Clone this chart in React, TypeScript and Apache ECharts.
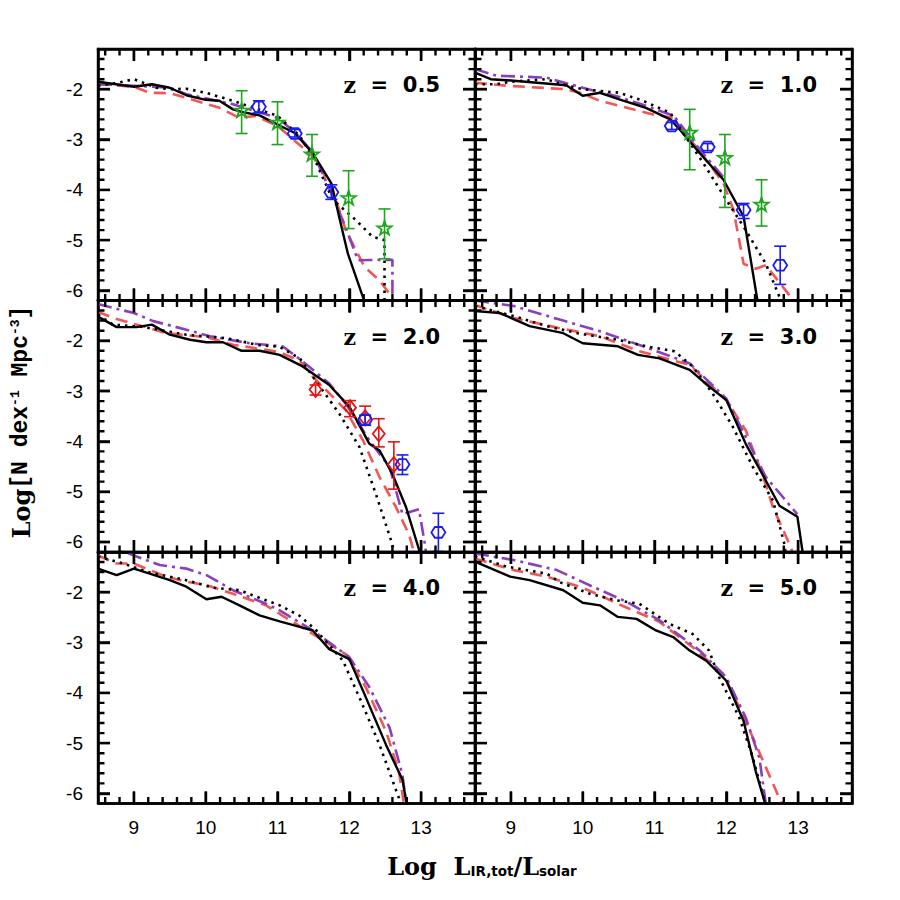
import React, { useEffect, useRef } from 'react';
import * as echarts from 'echarts';

// ---------- axes ----------
const X_MIN = 8.5, X_MAX = 13.75, Y_MIN = -6.2, Y_MAX = -1.2;
const xMajorTicks = [9, 10, 11, 12, 13];
const xMinorTicks = [8.6, 8.8, 9.2, 9.4, 9.6, 9.8, 10.2, 10.4, 10.6, 10.8, 11.2, 11.4, 11.6, 11.8, 12.2, 12.4, 12.6, 12.8, 13.2, 13.4, 13.6];
const yMajorTicks = [-2, -3, -4, -5, -6];
const yMinorTicks = [-1.4, -1.6, -1.8, -2.2, -2.4, -2.6, -2.8, -3.2, -3.4, -3.6, -3.8, -4.2, -4.4, -4.6, -4.8, -5.2, -5.4, -5.6, -5.8];

// ---------- panel labels ----------
const redshifts = ['0.5', '1.0', '2.0', '3.0', '4.0', '5.0'];

// ---------- model curves [logL, logPhi] ----------
const z05Solid = [[8.5,-1.85],[9.0,-1.95],[9.25,-1.9],[9.5,-1.97],[9.73,-2.12],[10.0,-2.21],[10.19,-2.23],[10.38,-2.4],[10.5,-2.45],[10.75,-2.52],[11.0,-2.7],[11.24,-2.87],[11.49,-3.27],[11.75,-3.87],[11.88,-4.67],[11.98,-5.27],[12.23,-6.3]];
const z05Dotted = [[8.5,-1.93],[8.75,-1.88],[9.0,-1.8],[9.31,-1.97],[9.5,-2.0],[9.73,-1.99],[10.0,-2.07],[10.38,-2.23],[11.0,-2.53],[11.31,-2.93],[11.54,-3.47],[11.77,-4.2],[12.09,-4.6],[12.32,-4.93],[12.49,-5.0],[12.49,-6.3]];
const z05Dashed = [[8.5,-1.9],[9.0,-1.95],[9.22,-2.07],[9.5,-2.08],[9.73,-2.17],[10.19,-2.37],[10.47,-2.57],[10.7,-2.53],[11.0,-2.73],[11.49,-3.33],[11.75,-3.93],[11.95,-4.8],[12.21,-5.53],[12.42,-5.8],[12.56,-6.07],[12.6,-6.3]];
const z05DashDot = [[8.5,-1.9],[9.0,-1.93],[9.5,-1.97],[9.73,-2.1],[10.0,-2.18],[10.38,-2.3],[11.0,-2.57],[11.24,-2.85],[11.49,-3.25],[11.77,-4.13],[11.95,-4.75],[12.12,-5.4],[12.6,-5.39],[12.6,-6.3]];

const z10Solid = [[8.5,-1.67],[8.72,-1.8],[9.04,-1.83],[9.77,-1.92],[10.0,-2.13],[10.24,-2.07],[10.51,-2.2],[10.88,-2.37],[11.22,-2.6],[11.35,-2.8],[11.63,-3.27],[11.96,-3.8],[12.24,-4.53],[12.43,-6.17],[12.44,-6.3]];
const z10Dotted = [[8.5,-1.9],[8.8,-1.9],[9.0,-1.85],[9.5,-1.8],[9.7,-1.9],[10.0,-2.0],[10.51,-2.07],[10.84,-2.23],[11.22,-2.47],[11.4,-2.87],[11.68,-3.47],[12.0,-4.2],[12.27,-4.8],[12.55,-5.47],[12.74,-6.13],[12.78,-6.3]];
const z10Dashed = [[8.5,-1.87],[8.94,-1.93],[9.77,-2.0],[9.96,-2.07],[10.24,-2.23],[10.98,-2.5],[11.26,-2.57],[11.68,-3.33],[11.96,-3.87],[12.1,-4.4],[12.24,-5.47],[12.41,-5.57],[12.55,-5.5],[12.92,-6.17],[12.94,-6.3]];
const z10DashDot = [[8.5,-1.6],[8.8,-1.73],[9.5,-1.77],[10.0,-1.97],[10.5,-2.15],[10.88,-2.33],[11.27,-2.53],[11.63,-3.2],[11.96,-3.75]];

const z20Solid = [[8.5,-1.52],[8.76,-1.73],[9.04,-1.73],[9.25,-1.68],[9.5,-1.88],[9.78,-1.98],[10.01,-2.03],[10.24,-2.03],[10.5,-2.2],[10.75,-2.2],[11.03,-2.28],[11.35,-2.51],[11.72,-2.88],[12.0,-3.31],[12.28,-4.05],[12.42,-4.18],[12.6,-4.65],[12.79,-5.31],[12.97,-6.15],[12.98,-6.3]];
const z20Dotted = [[8.5,-1.48],[8.71,-1.68],[9.1,-1.72],[9.73,-1.88],[10.29,-1.95],[10.75,-2.09],[11.03,-2.12],[11.31,-2.35],[11.49,-2.71],[11.86,-3.45],[12.14,-4.11],[12.37,-5.05],[12.6,-6.05],[12.63,-6.3]];
const z20Dashed = [[8.5,-1.43],[8.76,-1.57],[9.22,-1.75],[9.45,-1.85],[10.01,-1.93],[10.38,-2.08],[10.84,-2.18],[11.03,-2.23],[11.31,-2.4],[11.49,-2.71],[11.95,-3.38],[12.19,-3.98],[12.42,-4.71],[12.65,-5.31],[12.83,-5.85],[12.92,-6.3]];
const z20DashDot = [[8.5,-1.27],[9.0,-1.45],[9.27,-1.61],[9.73,-1.78],[10.06,-1.91],[10.61,-2.05],[11.07,-2.11],[11.35,-2.41],[11.72,-2.85],[11.95,-3.25],[12.28,-3.98],[12.56,-4.51],[12.74,-5.45],[12.97,-5.35],[13.06,-6.11],[13.07,-6.3]];

const z30Solid = [[8.5,-1.41],[8.85,-1.45],[9.26,-1.71],[9.73,-1.85],[10.0,-2.05],[10.49,-2.11],[10.77,-2.28],[11.07,-2.35],[11.49,-2.58],[11.76,-2.91],[12.0,-3.18],[12.27,-4.05],[12.5,-4.65],[12.74,-5.28],[12.99,-5.5],[13.06,-6.18],[13.07,-6.3]];
const z30Dotted = [[8.5,-1.31],[9.04,-1.51],[9.5,-1.71],[9.96,-1.86],[10.49,-1.98],[10.88,-2.11],[11.28,-2.21],[11.53,-2.51],[11.81,-3.05],[12.09,-3.71],[12.37,-4.51],[12.65,-5.18],[12.81,-6.05],[12.83,-6.3]];
const z30Dashed = [[8.5,-1.29],[9.04,-1.55],[9.68,-1.75],[10.24,-1.91],[10.79,-2.21],[11.49,-2.48],[12.0,-3.18],[12.27,-3.78],[12.5,-4.65],[12.65,-5.31],[12.88,-6.05],[12.95,-6.3]];
const z30DashDot = [[8.5,-1.2],[9.04,-1.31],[9.68,-1.58],[10.24,-1.81],[10.84,-2.11],[11.49,-2.45],[12.0,-3.15],[12.27,-3.91],[12.55,-4.71],[12.99,-5.45]];

const z40Solid = [[8.5,-1.53],[8.76,-1.66],[9.0,-1.53],[9.22,-1.63],[9.5,-1.76],[9.73,-1.89],[10.01,-2.14],[10.22,-2.09],[10.47,-2.26],[10.75,-2.46],[11.03,-2.58],[11.31,-2.69],[11.49,-2.76],[11.72,-3.13],[12.0,-3.33],[12.23,-4.09],[12.51,-5.03],[12.74,-5.73],[12.81,-6.3]];
const z40Dotted = [[8.5,-1.29],[8.85,-1.43],[9.2,-1.6],[9.73,-1.76],[10.1,-1.91],[10.47,-1.96],[10.84,-2.16],[11.03,-2.26],[11.31,-2.47],[11.54,-2.76],[11.91,-3.36],[12.14,-4.09],[12.42,-5.03],[12.69,-6.09],[12.72,-6.3]];
const z40Dashed = [[8.5,-1.27],[8.76,-1.43],[9.0,-1.43],[9.45,-1.69],[9.73,-1.79],[10.01,-1.86],[10.38,-2.03],[10.84,-2.26],[11.03,-2.43],[11.49,-2.83],[11.95,-3.23],[12.23,-3.89],[12.51,-4.76],[12.69,-5.56],[12.77,-6.3]];
const z40DashDot = [[8.6,-0.95],[8.85,-1.19],[9.36,-1.46],[9.73,-1.53],[10.01,-1.66],[10.38,-1.96],[10.84,-2.23],[11.03,-2.36],[11.49,-2.76],[12.0,-3.29],[12.28,-3.89],[12.56,-4.69],[12.74,-5.63],[12.8,-6.3]];

const z50Solid = [[8.5,-1.39],[8.99,-1.69],[9.26,-1.76],[9.73,-1.96],[10.0,-2.21],[10.24,-2.26],[10.49,-2.49],[10.75,-2.53],[11.02,-2.76],[11.26,-2.89],[11.49,-3.16],[11.72,-3.36],[12.0,-3.76],[12.24,-4.56],[12.41,-5.56],[12.56,-6.3]];
const z50Dotted = [[8.5,-1.29],[8.94,-1.49],[9.5,-1.63],[9.68,-1.8],[10.1,-2.03],[10.47,-2.16],[10.79,-2.23],[11.21,-2.63],[11.53,-2.83],[11.76,-3.16],[11.9,-3.69],[12.18,-4.49],[12.37,-5.29],[12.56,-6.3]];
const z50Dashed = [[8.5,-1.33],[9.04,-1.56],[9.5,-1.69],[9.96,-1.89],[10.24,-2.06],[10.49,-2.23],[11.07,-2.59],[11.53,-3.09],[11.96,-3.63],[12.18,-4.29],[12.37,-4.89],[12.8,-6.3]];
const z50DashDot = [[8.5,-1.23],[9.04,-1.36],[9.64,-1.56],[10.14,-1.89],[10.61,-2.19],[11.07,-2.56],[11.63,-3.16],[12.0,-3.69],[12.27,-4.49],[12.46,-5.29],[12.56,-6.3]];

// ---------- observations [logL, logPhi, low, high] ----------
const z05Stars = [[10.5,-2.43,-2.88,-2.03],[11.0,-2.67,-3.1,-2.25],[11.48,-3.3,-3.73,-2.9],[11.99,-4.17,-4.77,-3.62],[12.49,-4.77,-5.37,-4.38]];
const z05Hex = [[10.74,-2.35,-2.47,-2.23],[11.24,-2.88,-2.95,-2.8],[11.75,-4.05,-4.19,-3.9]];
const z10Stars = [[11.49,-2.87,-3.6,-2.4],[11.98,-3.37,-4.35,-2.9],[12.49,-4.3,-4.72,-3.8]];
const z10Hex = [[11.24,-2.73,-2.8,-2.66],[11.74,-3.15,-3.22,-3.08],[12.24,-4.4,-4.57,-4.27],[12.75,-5.5,-5.88,-5.12]];
const z20Diamonds = [[11.53,-2.97,-3.08,-2.88],[12.01,-3.33,-3.51,-3.19],[12.22,-3.53,-3.68,-3.3],[12.41,-3.85,-4.11,-3.55],[12.62,-4.46,-4.95,-4.01]];
const z20Hex = [[12.22,-3.57,-3.68,-3.48],[12.74,-4.46,-4.66,-4.27],[13.24,-5.81,-6.19,-5.43]];

const solidCurves = [z05Solid, z10Solid, z20Solid, z30Solid, z40Solid, z50Solid];
const dottedCurves = [z05Dotted, z10Dotted, z20Dotted, z30Dotted, z40Dotted, z50Dotted];
const dashedCurves = [z05Dashed, z10Dashed, z20Dashed, z30Dashed, z40Dashed, z50Dashed];
const dashDotCurves = [z05DashDot, z10DashDot, z20DashDot, z30DashDot, z40DashDot, z50DashDot];

const GREEN = '#1ea51e';
const BLUE = '#1c1cf0';
const RED = '#e01616';
const SALMON = '#f25656';
const PURPLE = '#8a3fbd';

const observations = [
  { panel: 0, data: z05Stars, kind: 'star', color: GREEN },
  { panel: 0, data: z05Hex, kind: 'hex', color: BLUE },
  { panel: 1, data: z10Stars, kind: 'star', color: GREEN },
  { panel: 1, data: z10Hex, kind: 'hex', color: BLUE },
  { panel: 2, data: z20Diamonds, kind: 'diamond', color: RED },
  { panel: 2, data: z20Hex, kind: 'hex', color: BLUE },
];

// ---------- layout ----------
const LEFT0 = 98;
const PANEL_W = 377;
const PANEL_H = 251.5;
const TOPS = [49, 300.5, 552];
const MAJOR_LEN = 12;
const MINOR_LEN = 6.5;

function markerPoints(kind: string, cx: number, cy: number) {
  const pts: number[][] = [];
  if (kind === 'star') {
    for (let i = 0; i < 10; i++) {
      const r = i % 2 === 0 ? 7.5 : 3.0;
      const a = -Math.PI / 2 + (i * Math.PI) / 5;
      pts.push([cx + r * Math.cos(a), cy + r * Math.sin(a)]);
    }
  } else if (kind === 'hex') {
    for (let i = 0; i < 6; i++) {
      const a = (i * Math.PI) / 3;
      pts.push([cx + 7 * Math.cos(a), cy + 6.2 * Math.sin(a)]);
    }
  } else {
    pts.push([cx, cy - 7.5], [cx + 6, cy], [cx, cy + 7.5], [cx - 6, cy]);
  }
  return pts;
}

function makeAxis(isX: boolean, gridIndex: number, position: string, showLabel: boolean) {
  return {
    type: 'value',
    gridIndex,
    position,
    min: isX ? X_MIN : Y_MIN,
    max: isX ? X_MAX : Y_MAX,
    splitLine: { show: false },
    axisLine: { show: true, onZero: false, lineStyle: { color: '#000', width: 2.6 } },
    axisTick: {
      show: true,
      inside: true,
      length: MAJOR_LEN,
      customValues: isX ? xMajorTicks : yMajorTicks,
      lineStyle: { color: '#000', width: 2.4 },
    },
    axisLabel: {
      show: showLabel,
      customValues: isX ? xMajorTicks : yMajorTicks,
      color: '#000',
      fontSize: 19,
      fontFamily: 'Liberation Sans',
      margin: isX ? 14 : 15,
    },
  };
}

// One continuous path running round the panel frame, stepping in at every tick value.
function tickComb() {
  const dy = (Y_MAX - Y_MIN) / PANEL_H;
  const dx = (X_MAX - X_MIN) / PANEL_W;
  const xs = [...xMajorTicks.map((v) => [v, MAJOR_LEN]), ...xMinorTicks.map((v) => [v, MINOR_LEN])].sort((a, b) => a[0] - b[0]);
  const ys = [...yMajorTicks.map((v) => [v, MAJOR_LEN]), ...yMinorTicks.map((v) => [v, MINOR_LEN])].sort((a, b) => a[0] - b[0]);
  const pts: number[][] = [];
  pts.push([X_MIN, Y_MIN]);
  xs.forEach(([v, l]) => { pts.push([v, Y_MIN], [v, Y_MIN + l * dy], [v, Y_MIN]); });
  pts.push([X_MAX, Y_MIN]);
  ys.forEach(([v, l]) => { pts.push([X_MAX, v], [X_MAX - l * dx, v], [X_MAX, v]); });
  pts.push([X_MAX, Y_MAX]);
  [...xs].reverse().forEach(([v, l]) => { pts.push([v, Y_MAX], [v, Y_MAX - l * dy], [v, Y_MAX]); });
  pts.push([X_MIN, Y_MAX]);
  [...ys].reverse().forEach(([v, l]) => { pts.push([X_MIN, v], [X_MIN + l * dx, v], [X_MIN, v]); });
  pts.push([X_MIN, Y_MIN]);
  return pts;
}

export default function App() {
  const ref = useRef<HTMLDivElement>(null);

  useEffect(() => {
    document.body.style.margin = '0';
    const chart = echarts.init(ref.current!, null, { renderer: 'svg' });

    const grid: any[] = [];
    const xAxis: any[] = [];
    const yAxis: any[] = [];
    const series: any[] = [];
    const graphic: any[] = [];
    const comb = tickComb();

    redshifts.forEach((zLabel, i) => {
      const col = i % 2;
      const row = Math.floor(i / 2);
      const left = LEFT0 + col * PANEL_W;
      const top = TOPS[row];
      grid.push({ left, top, width: PANEL_W, height: PANEL_H, containLabel: false });
      xAxis.push(makeAxis(true, i, 'bottom', row === 2));
      xAxis.push(makeAxis(true, i, 'top', false));
      yAxis.push(makeAxis(false, i, 'left', col === 0));
      yAxis.push(makeAxis(false, i, 'right', false));

      const ax = { xAxisIndex: 2 * i, yAxisIndex: 2 * i };
      const base = { type: 'line', ...ax, showSymbol: false, symbol: 'none', silent: true, clip: true };
      series.push({ ...base, data: comb, z: 8, clip: false, lineStyle: { color: '#000', width: 2.4, join: 'miter' } });
      series.push({ ...base, data: dashedCurves[i], z: 2, lineStyle: { color: SALMON, width: 2.6, type: [12, 7] } });
      series.push({ ...base, data: dashDotCurves[i], z: 2, lineStyle: { color: PURPLE, width: 2.6, type: [14, 5, 3, 5] } });
      series.push({ ...base, data: dottedCurves[i], z: 3, lineStyle: { color: '#000', width: 2.6, type: [2.5, 5] } });
      series.push({ ...base, data: solidCurves[i], z: 3, lineStyle: { color: '#000', width: 2.4 } });

      graphic.push({
        type: 'text',
        x: left + PANEL_W - 35,
        y: top + 36,
        style: {
          text: '{a|z}{b|  =  ' + zLabel + '}',
          align: 'right',
          verticalAlign: 'middle',
          rich: {
            a: { fontFamily: 'DejaVu Serif', fontWeight: 'bold', fontSize: 22, fill: '#000' },
            b: { fontFamily: 'DejaVu Sans', fontWeight: 'bold', fontSize: 21, fill: '#000' },
          },
        },
      });
    });

    observations.forEach((obs) => {
      series.push({
        type: 'custom',
        xAxisIndex: 2 * obs.panel,
        yAxisIndex: 2 * obs.panel,
        z: 5,
        silent: true,
        data: obs.data,
        encode: { x: 0, y: 1 },
        renderItem: (params: any, api: any) => {
          const x = api.value(0), y = api.value(1), lo = api.value(2), hi = api.value(3);
          const c = api.coord([x, y]);
          const pl = api.coord([x, lo]);
          const ph = api.coord([x, hi]);
          const cw = 6;
          const st = { stroke: obs.color, lineWidth: 1.6, fill: 'none' };
          return {
            type: 'group',
            children: [
              { type: 'line', shape: { x1: c[0], y1: pl[1], x2: c[0], y2: ph[1] }, style: st },
              { type: 'line', shape: { x1: c[0] - cw, y1: pl[1], x2: c[0] + cw, y2: pl[1] }, style: st },
              { type: 'line', shape: { x1: c[0] - cw, y1: ph[1], x2: c[0] + cw, y2: ph[1] }, style: st },
              { type: 'polygon', shape: { points: markerPoints(obs.kind, c[0], c[1]) }, style: { stroke: obs.color, lineWidth: 1.8, fill: 'none' } },
            ],
          };
        },
      });
    });

    graphic.push({
      type: 'text',
      x: 482,
      y: 866,
      style: {
        text: '{m|Log  L}{s|IR,tot}{m|/L}{s|solar}',
        align: 'center',
        verticalAlign: 'middle',
        rich: {
          m: { fontFamily: 'DejaVu Serif', fontWeight: 'bold', fontSize: 24, fill: '#000' },
          s: { fontFamily: 'DejaVu Sans', fontWeight: 'bold', fontSize: 13.5, fill: '#000', verticalAlign: 'bottom' },
        },
      },
    });

    graphic.push({
      type: 'text',
      x: 21,
      y: 422,
      rotation: Math.PI / 2,
      style: {
        text: '{m|Log}{n|[N dex}{s|-1}{n| Mpc}{s|-3}{n|]}',
        align: 'center',
        verticalAlign: 'middle',
        rich: {
          m: { fontFamily: 'DejaVu Serif', fontWeight: 'bold', fontSize: 24, fill: '#000' },
          n: { fontFamily: 'Liberation Mono', fontWeight: 'bold', fontSize: 23, fill: '#000' },
          s: { fontFamily: 'Liberation Mono', fontWeight: 'bold', fontSize: 13, fill: '#000', verticalAlign: 'top' },
        },
      },
    });

    chart.setOption({
      animation: false,
      backgroundColor: '#fff',
      grid,
      xAxis,
      yAxis,
      series,
      graphic,
    });

    return () => chart.dispose();
  }, []);

  return <div ref={ref} style={{ position: 'absolute', left: 0, top: 0, width: 900, height: 900 }} />;
}
